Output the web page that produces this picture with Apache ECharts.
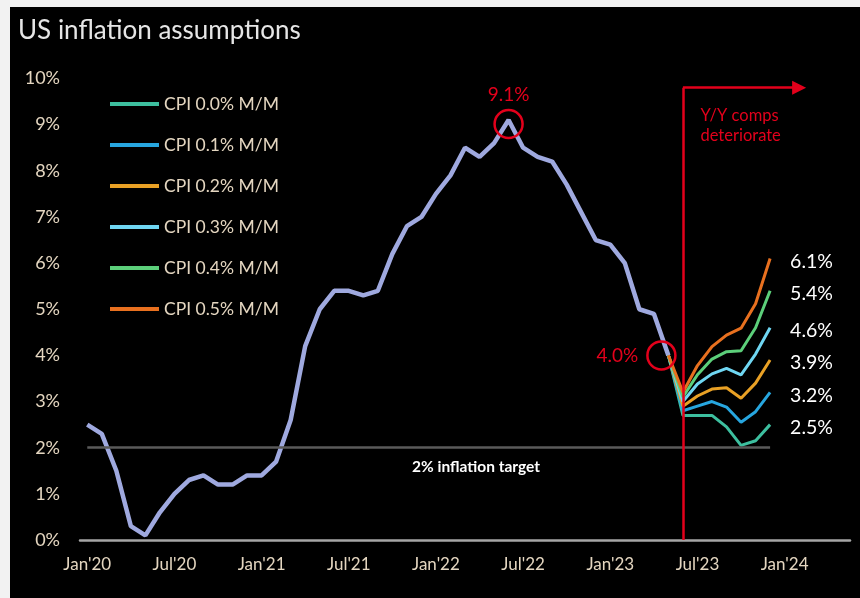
<!DOCTYPE html>
<html>
<head>
<meta charset="utf-8">
<script src="https://cdn.jsdelivr.net/npm/echarts@6/dist/echarts.min.js"></script>
<style>
  html, body { margin: 0; padding: 0; background: #f2f2f2; }
  #chart { width: 860px; height: 598px; }
</style>
</head>
<body>
<div id="chart"></div>
<script>
// ---- Data ----
const monthNames = ['Jan','Feb','Mar','Apr','May','Jun','Jul','Aug','Sep','Oct','Nov','Dec'];
const yearLabels = ['20','21','22','23','24'];
const monthCount = 53; // Jan'20 .. May'24 (axis extent)

// Actual CPI Y/Y, Jan'20 .. May'23
const cpiYoY = [
  2.5, 2.3, 1.5, 0.3, 0.1, 0.6, 1.0, 1.3, 1.4, 1.2, 1.2, 1.4,
  1.4, 1.7, 2.6, 4.2, 5.0, 5.4, 5.4, 5.3, 5.4, 6.2, 6.8, 7.0,
  7.5, 7.9, 8.5, 8.3, 8.6, 9.1, 8.5, 8.3, 8.2, 7.7, 7.1, 6.5,
  6.4, 6.0, 5.0, 4.9, 4.0
];

// Projection months and scenario values (May'23 .. Dec'23)
const projMonths = ["May'23","Jun'23","Jul'23","Aug'23","Sep'23","Oct'23","Nov'23","Dec'23"];
const proj00 = [4.0, 2.7, 2.7, 2.7, 2.45, 2.05, 2.15, 2.5];
const proj01 = [4.0, 2.8, 2.9, 3.0, 2.88, 2.55, 2.78, 3.2];
const proj02 = [4.0, 2.9, 3.12, 3.27, 3.3, 3.07, 3.4, 3.9];
const proj03 = [4.0, 3.0, 3.38, 3.6, 3.72, 3.58, 4.03, 4.6];
const proj04 = [4.0, 3.1, 3.58, 3.92, 4.08, 4.1, 4.6, 5.4];
const proj05 = [4.0, 3.2, 3.78, 4.19, 4.44, 4.59, 5.12, 6.1];

const scenarioNames = ['CPI 0.0% M/M','CPI 0.1% M/M','CPI 0.2% M/M','CPI 0.3% M/M','CPI 0.4% M/M','CPI 0.5% M/M'];
const scenarioValues = [proj00, proj01, proj02, proj03, proj04, proj05];
const scenarioColors = ['#3dbf9f','#27a6df','#e9a125','#6fd6f2','#5ccf7a','#e8701f'];

// ---- Build categories ----
const categories = [];
for (let y = 0; y < yearLabels.length; y++) {
  for (let m = 0; m < 12; m++) {
    if (categories.length < monthCount) categories.push(monthNames[m] + "'" + yearLabels[y]);
  }
}

const RED = '#e3001b';
const LABEL_COLOR = '#e4d6c0';
const FONT = 'Lato, sans-serif';

const mainData = cpiYoY.map((v, i) => [categories[i], v]);

const series = [{
  name: 'CPI Y/Y',
  type: 'line',
  data: mainData,
  showSymbol: false,
  lineStyle: { color: '#9fa9df', width: 4.5 },
  itemStyle: { color: '#9fa9df' },
  z: 3,
  markLine: {
    silent: true,
    symbol: 'none',
    label: { show: false },
    data: [
      [{ coord: ["Jan'20", 2], lineStyle: { color: '#5a5a5a', width: 2.5, type: 'solid' } },
       { coord: ["Dec'23", 2] }],
      [{ coord: ["Jun'23", 0], lineStyle: { color: RED, width: 2.5, type: 'solid' } },
       { coord: ["Jun'23", 9.8] }],
      [{ coord: ["Jun'23", 9.8], symbol: 'none', lineStyle: { color: RED, width: 2.5, type: 'solid' } },
       { coord: ["Feb'24", 9.8], symbol: 'triangle', symbolSize: 14 }]
    ]
  },
  markPoint: {
    silent: true,
    data: [
      { coord: ["Jun'22", 9.1], symbol: 'circle', symbolSize: 28, symbolOffset: [0, 4],
        itemStyle: { color: 'rgba(0,0,0,0)', borderColor: RED, borderWidth: 2.5 },
        label: { show: true, position: 'top', distance: 4, formatter: '9.1%', color: RED, fontSize: 19, fontFamily: FONT } },
      { coord: ["May'23", 4.0], symbol: 'circle', symbolSize: 28, symbolOffset: [-7, 0],
        itemStyle: { color: 'rgba(0,0,0,0)', borderColor: RED, borderWidth: 2.5 },
        label: { show: true, position: 'left', distance: 8, formatter: '4.0%', color: RED, fontSize: 19, fontFamily: FONT } },
      { coord: ["Mar'22", 1.58], symbol: 'circle', symbolSize: 0,
        label: { show: true, position: 'inside', offset: [11, 0], formatter: '2% inflation target', color: '#ffffff', fontSize: 15.5, fontWeight: 'bold', fontFamily: FONT } },
      { coord: ["Jul'23", 8.98], symbol: 'circle', symbolSize: 0,
        label: { show: true, position: 'inside', align: 'left', offset: [3, 0], formatter: 'Y/Y comps\ndeteriorate', color: RED, fontSize: 16.5, lineHeight: 20, fontFamily: FONT } }
    ]
  }
}];

scenarioNames.forEach((name, k) => {
  series.push({
    name: name,
    type: 'line',
    data: projMonths.map((m, i) => [m, scenarioValues[k][i]]),
    showSymbol: false,
    lineStyle: { color: scenarioColors[k], width: 3 },
    itemStyle: { color: scenarioColors[k] },
    z: 4,
    endLabel: {
      show: true,
      distance: 20,
      offset: [0, 3],
      color: '#ffffff',
      fontSize: 19.5,
      fontFamily: FONT,
      formatter: p => p.value[1].toFixed(1) + '%'
    }
  });
});

const chart = echarts.init(document.getElementById('chart'), null, { renderer: 'canvas' });
chart.setOption({
  animation: false,
  backgroundColor: '#f2f2f2',
  textStyle: { fontFamily: FONT },
  graphic: [{
    type: 'rect', left: 10, top: 7, z: -100, silent: true,
    shape: { width: 850, height: 591 },
    style: { fill: '#000000' }
  }],
  title: {
    text: 'US inflation assumptions',
    left: 13, top: 13,
    textStyle: { color: '#e6e6e6', fontSize: 26, fontWeight: 'normal', fontFamily: FONT }
  },
  legend: {
    data: scenarioNames,
    orient: 'vertical',
    left: 105, top: 90,
    icon: 'rect',
    itemWidth: 49, itemHeight: 4, itemGap: 23,
    textStyle: { color: LABEL_COLOR, fontSize: 17.5, lineHeight: 18, fontFamily: FONT },
    selectedMode: false
  },
  grid: { left: 80, right: 10, top: 78.5, bottom: 58, containLabel: false },
  xAxis: {
    type: 'category',
    data: categories,
    boundaryGap: true,
    axisLine: { lineStyle: { color: '#a6a6a6', width: 2.5 } },
    axisTick: { show: false },
    axisLabel: { interval: 5, margin: 16, color: LABEL_COLOR, fontSize: 17, fontFamily: FONT },
    splitLine: { show: false }
  },
  yAxis: {
    type: 'value',
    min: 0, max: 10, interval: 1,
    axisLine: { show: false },
    axisTick: { show: false },
    splitLine: { show: false },
    axisLabel: { formatter: '{value}%', margin: 20, color: LABEL_COLOR, fontSize: 18, fontFamily: FONT }
  },
  series: series
});
</script>
</body>
</html>
